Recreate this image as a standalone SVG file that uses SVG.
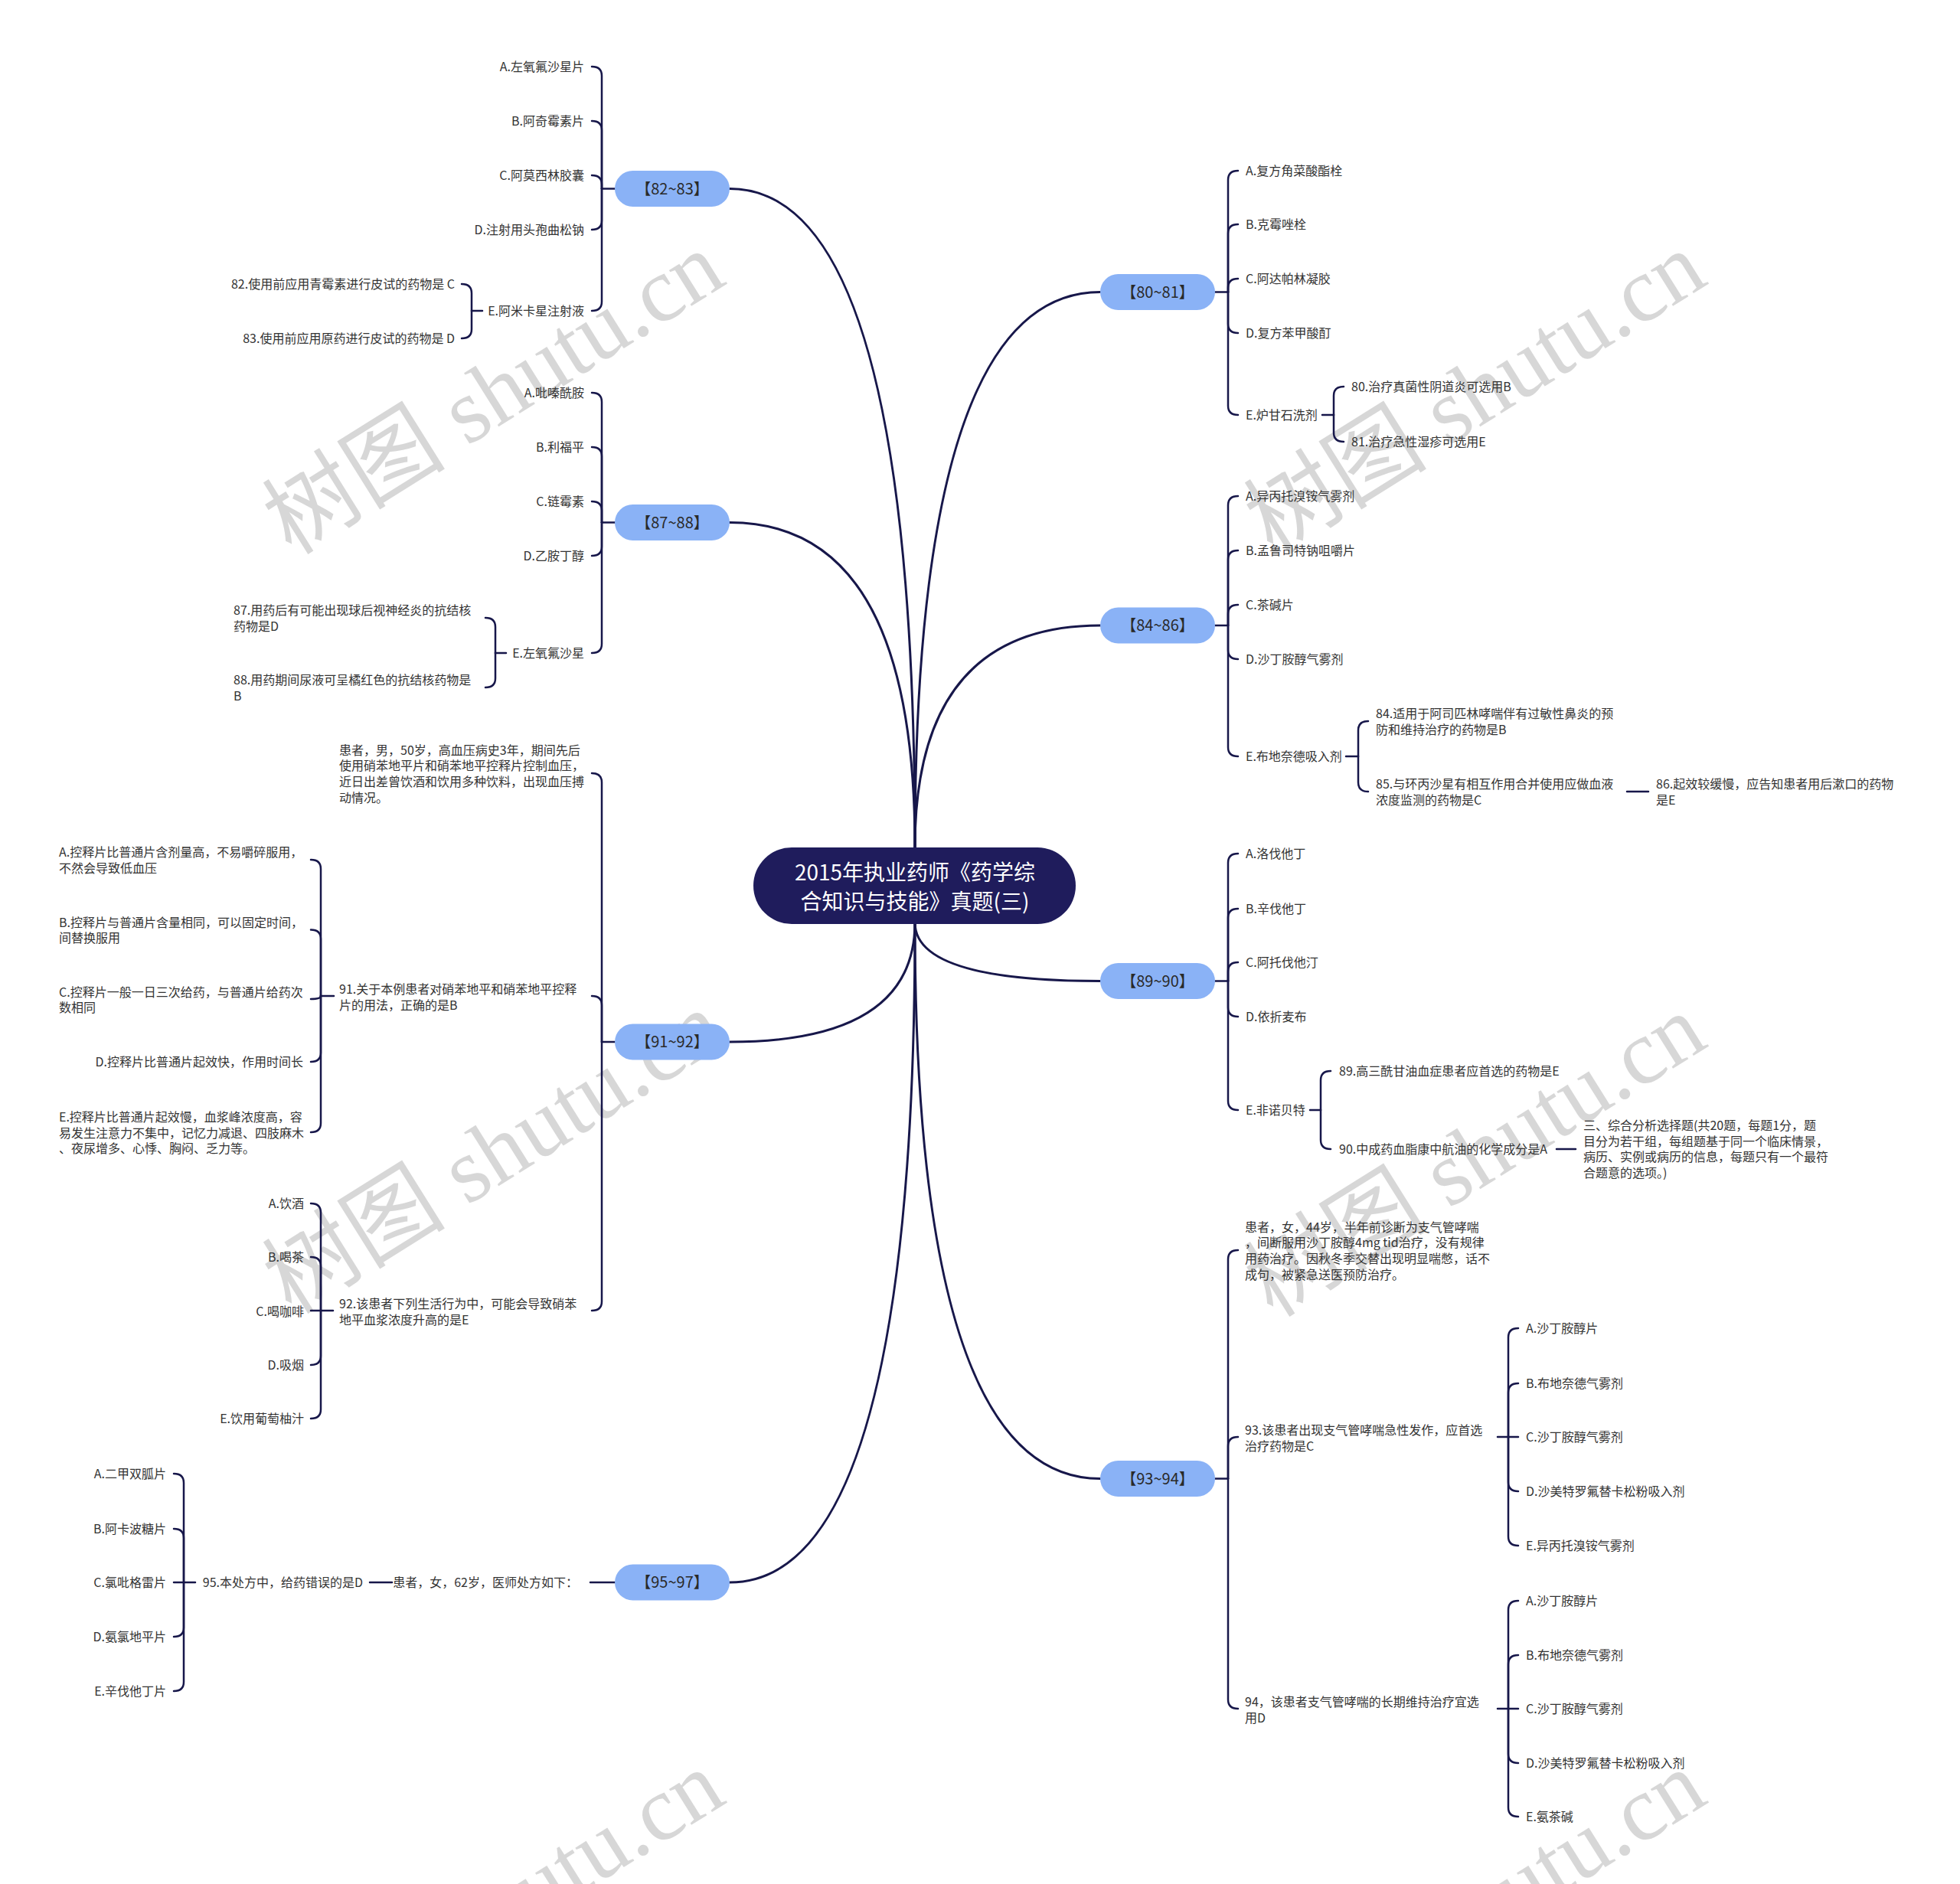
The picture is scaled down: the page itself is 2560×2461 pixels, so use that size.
<svg xmlns="http://www.w3.org/2000/svg" width="2560" height="2461" viewBox="0 0 2560 2461">
<style>
.t{font-family:"Noto Sans CJK SC","Liberation Sans",sans-serif;font-size:16px;fill:#333}
.e{text-anchor:end}
.bt{font-family:"Noto Sans CJK SC","Liberation Sans",sans-serif;font-size:20px;fill:#2a2a2a;text-anchor:middle}
.pill{fill:#8ab2f6}
.c{fill:none;stroke:#17174a;stroke-width:2.5;stroke-linecap:round}
.m{stroke-width:3}
.rt{font-family:"Noto Sans CJK SC","Liberation Sans",sans-serif;font-size:28px;fill:#ffffff;text-anchor:middle}
.wm{font-family:"Liberation Serif","Noto Sans CJK SC",serif;font-size:120px;fill:#c9c9c9;fill-opacity:0.75;text-anchor:middle}
</style>
<rect width="2560" height="2461" fill="#ffffff"/>
<g id="watermark">
<text class="wm" transform="translate(645,514) rotate(-32)" y="40">树图 shutu.cn</text>
<text class="wm" transform="translate(1927,514) rotate(-32)" y="40">树图 shutu.cn</text>
<text class="wm" transform="translate(645,1506) rotate(-32)" y="40">树图 shutu.cn</text>
<text class="wm" transform="translate(1927,1510) rotate(-32)" y="40">树图 shutu.cn</text>
<text class="wm" transform="translate(645,2498) rotate(-32)" y="40">树图 shutu.cn</text>
<text class="wm" transform="translate(1927,2498) rotate(-32)" y="40">树图 shutu.cn</text>
</g>
<g id="connectors">
<path class="c m" d="M1195,1107 Q1195,246.5 953,246.5"/>
<path class="c m" d="M1195,1107 Q1195,682.5 953,682.5"/>
<path class="c m" d="M1195,1205 Q1195,1361 953,1361"/>
<path class="c m" d="M1195,1205 Q1195,2067 953,2067"/>
<path class="c m" d="M1195,1107 Q1195,381.5 1437,381.5"/>
<path class="c m" d="M1195,1107 Q1195,817 1437,817"/>
<path class="c m" d="M1195,1205 Q1195,1281.5 1437,1281.5"/>
<path class="c m" d="M1195,1205 Q1195,1931.5 1437,1931.5"/>
<!-- 82~83 -->
<path class="c" d="M803,246.5 H786"/>
<path class="c" d="M786,246.5 V99 Q786,87 773,87"/>
<path class="c" d="M786,246.5 V170 Q786,158 773,158"/>
<path class="c" d="M786,246.5 V241 Q786,229 773,229"/>
<path class="c" d="M786,246.5 V288 Q786,300 773,300"/>
<path class="c" d="M786,246.5 V394 Q786,406 773,406"/>
<path class="c" d="M630,406 H616"/>
<path class="c" d="M616,406 V383 Q616,371 603,371"/>
<path class="c" d="M616,406 V430 Q616,442 603,442"/>
<!-- 87~88 -->
<path class="c" d="M803,682.5 H786"/>
<path class="c" d="M786,682.5 V525 Q786,513 773,513"/>
<path class="c" d="M786,682.5 V596 Q786,584 773,584"/>
<path class="c" d="M786,682.5 V667 Q786,655 773,655"/>
<path class="c" d="M786,682.5 V714 Q786,726 773,726"/>
<path class="c" d="M786,682.5 V841 Q786,853 773,853"/>
<path class="c" d="M661,853 H647"/>
<path class="c" d="M647,853 V819 Q647,807 634,807"/>
<path class="c" d="M647,853 V886 Q647,898 634,898"/>
<!-- 91~92 -->
<path class="c" d="M803,1361 H786"/>
<path class="c" d="M786,1361 V1022 Q786,1010 773,1010"/>
<path class="c" d="M786,1361 V1313 Q786,1301 773,1301"/>
<path class="c" d="M786,1361 V1700 Q786,1712 773,1712"/>
<path class="c" d="M436,1301 H419"/>
<path class="c" d="M419,1301 V1135 Q419,1123 406,1123"/>
<path class="c" d="M419,1301 V1226.6 Q419,1214.6 406,1214.6"/>
<path class="c" d="M419,1301 Q419,1305 406,1305"/>
<path class="c" d="M419,1301 V1375 Q419,1387 406,1387"/>
<path class="c" d="M419,1301 V1467 Q419,1479 406,1479"/>
<path class="c" d="M435,1712 H419"/>
<path class="c" d="M419,1712 V1584 Q419,1572 406,1572"/>
<path class="c" d="M419,1712 V1654 Q419,1642 406,1642"/>
<path class="c" d="M419,1712 H406"/>
<path class="c" d="M419,1712 V1771 Q419,1783 406,1783"/>
<path class="c" d="M419,1712 V1841 Q419,1853 406,1853"/>
<!-- 95~97 -->
<path class="c" d="M803,2067 H771"/>
<path class="c" d="M512,2067 H483"/>
<path class="c" d="M255,2067 H240"/>
<path class="c" d="M240,2067 V1937 Q240,1925 227,1925"/>
<path class="c" d="M240,2067 V2009 Q240,1997 227,1997"/>
<path class="c" d="M240,2067 H227"/>
<path class="c" d="M240,2067 V2126 Q240,2138 227,2138"/>
<path class="c" d="M240,2067 V2197 Q240,2209 227,2209"/>
<!-- 80~81 -->
<path class="c" d="M1587,381.5 H1604"/>
<path class="c" d="M1604,381.5 V235 Q1604,223 1617,223"/>
<path class="c" d="M1604,381.5 V305 Q1604,293 1617,293"/>
<path class="c" d="M1604,381.5 V376 Q1604,364 1617,364"/>
<path class="c" d="M1604,381.5 V423 Q1604,435 1617,435"/>
<path class="c" d="M1604,381.5 V530 Q1604,542 1617,542"/>
<path class="c" d="M1727,542 H1742"/>
<path class="c" d="M1742,542 V517 Q1742,505 1755,505"/>
<path class="c" d="M1742,542 V565 Q1742,577 1755,577"/>
<!-- 84~86 -->
<path class="c" d="M1587,817 H1604"/>
<path class="c" d="M1604,817 V660 Q1604,648 1617,648"/>
<path class="c" d="M1604,817 V731 Q1604,719 1617,719"/>
<path class="c" d="M1604,817 V802 Q1604,790 1617,790"/>
<path class="c" d="M1604,817 V849 Q1604,861 1617,861"/>
<path class="c" d="M1604,817 V976 Q1604,988 1617,988"/>
<path class="c" d="M1758,988 H1774"/>
<path class="c" d="M1774,988 V954 Q1774,942 1787,942"/>
<path class="c" d="M1774,988 V1022 Q1774,1034 1787,1034"/>
<path class="c" d="M2125,1034 H2153"/>
<!-- 89~90 -->
<path class="c" d="M1587,1281.5 H1604"/>
<path class="c" d="M1604,1281.5 V1127 Q1604,1115 1617,1115"/>
<path class="c" d="M1604,1281.5 V1199 Q1604,1187 1617,1187"/>
<path class="c" d="M1604,1281.5 V1269 Q1604,1257 1617,1257"/>
<path class="c" d="M1604,1281.5 V1316 Q1604,1328 1617,1328"/>
<path class="c" d="M1604,1281.5 V1438 Q1604,1450 1617,1450"/>
<path class="c" d="M1711,1450 H1725"/>
<path class="c" d="M1725,1450 V1411 Q1725,1399 1738,1399"/>
<path class="c" d="M1725,1450 V1489 Q1725,1501 1738,1501"/>
<path class="c" d="M2033,1501 H2058"/>
<!-- 93~94 -->
<path class="c" d="M1587,1931.5 H1604"/>
<path class="c" d="M1604,1931.5 V1645 Q1604,1633 1617,1633"/>
<path class="c" d="M1604,1931.5 V1889 Q1604,1877 1617,1877"/>
<path class="c" d="M1604,1931.5 V2220 Q1604,2232 1617,2232"/>
<path class="c" d="M1956,1877 H1970"/>
<path class="c" d="M1970,1877 V1747 Q1970,1735 1983,1735"/>
<path class="c" d="M1970,1877 V1819 Q1970,1807 1983,1807"/>
<path class="c" d="M1970,1877 H1983"/>
<path class="c" d="M1970,1877 V1936 Q1970,1948 1983,1948"/>
<path class="c" d="M1970,1877 V2007 Q1970,2019 1983,2019"/>
<path class="c" d="M1956,2232 H1970"/>
<path class="c" d="M1970,2232 V2103 Q1970,2091 1983,2091"/>
<path class="c" d="M1970,2232 V2174 Q1970,2162 1983,2162"/>
<path class="c" d="M1970,2232 H1983"/>
<path class="c" d="M1970,2232 V2291 Q1970,2303 1983,2303"/>
<path class="c" d="M1970,2232 V2361 Q1970,2373 1983,2373"/>
</g>
<g id="root">
<rect x="984" y="1107" width="421" height="100" rx="50" fill="#1f1c5c"/>
<text class="rt" x="1195" y="1150">2015年执业药师《药学综</text>
<text class="rt" x="1195" y="1188">合知识与技能》真题(三)</text>
</g>
<!-- left branches -->
<g id="b8283"><rect class="pill" x="803" y="223" width="150" height="47" rx="23.5"/><text class="bt" x="878" y="253.5">【82~83】</text></g>
<g id="b8283-a"><text class="t e" x="763" y="93">A.左氧氟沙星片</text></g>
<g id="b8283-b"><text class="t e" x="763" y="164">B.阿奇霉素片</text></g>
<g id="b8283-c"><text class="t e" x="763" y="235">C.阿莫西林胶囊</text></g>
<g id="b8283-d"><text class="t e" x="763" y="306">D.注射用头孢曲松钠</text></g>
<g id="b8283-e"><text class="t e" x="763" y="412">E.阿米卡星注射液</text></g>
<g id="q82"><text class="t e" x="594" y="377">82.使用前应用青霉素进行皮试的药物是 C</text></g>
<g id="q83"><text class="t e" x="594" y="448">83.使用前应用原药进行皮试的药物是 D</text></g>

<g id="b8788"><rect class="pill" x="803" y="659" width="150" height="47" rx="23.5"/><text class="bt" x="878" y="689.5">【87~88】</text></g>
<g id="b8788-a"><text class="t e" x="763" y="519">A.吡嗪酰胺</text></g>
<g id="b8788-b"><text class="t e" x="763" y="590">B.利福平</text></g>
<g id="b8788-c"><text class="t e" x="763" y="661">C.链霉素</text></g>
<g id="b8788-d"><text class="t e" x="763" y="732">D.乙胺丁醇</text></g>
<g id="b8788-e"><text class="t e" x="763" y="859">E.左氧氟沙星</text></g>
<g id="q87"><text class="t" x="305" y="803">87.用药后有可能出现球后视神经炎的抗结核</text><text class="t" x="305" y="823.5">药物是D</text></g>
<g id="q88"><text class="t" x="305" y="894">88.用药期间尿液可呈橘红色的抗结核药物是</text><text class="t" x="305" y="914.5">B</text></g>

<g id="b9192"><rect class="pill" x="803" y="1337.5" width="150" height="47" rx="23.5"/><text class="bt" x="878" y="1368">【91~92】</text></g>
<g id="case91"><text class="t" x="443" y="985.5">患者，男，50岁，高血压病史3年，期间先后</text><text class="t" x="443" y="1006.2">使用硝苯地平片和硝苯地平控释片控制血压，</text><text class="t" x="443" y="1026.9">近日出差曾饮酒和饮用多种饮料，出现血压搏</text><text class="t" x="443" y="1047.6">动情况。</text></g>
<g id="q91"><text class="t" x="443" y="1298">91.关于本例患者对硝苯地平和硝苯地平控释</text><text class="t" x="443" y="1318.5">片的用法，正确的是B</text></g>
<g id="q91-a"><text class="t" x="77" y="1119">A.控释片比普通片含剂量高，不易嚼碎服用，</text><text class="t" x="77" y="1139.5">不然会导致低血压</text></g>
<g id="q91-b"><text class="t" x="77" y="1210.5">B.控释片与普通片含量相同，可以固定时间，</text><text class="t" x="77" y="1231">间替换服用</text></g>
<g id="q91-c"><text class="t" x="77" y="1301.5">C.控释片一般一日三次给药，与普通片给药次</text><text class="t" x="77" y="1322">数相同</text></g>
<g id="q91-d"><text class="t e" x="396" y="1393">D.控释片比普通片起效快，作用时间长</text></g>
<g id="q91-e"><text class="t" x="77" y="1465">E.控释片比普通片起效慢，血浆峰浓度高，容</text><text class="t" x="77" y="1485.7">易发生注意力不集中，记忆力减退、四肢麻木</text><text class="t" x="77" y="1506.4">、夜尿增多、心悸、胸闷、乏力等。</text></g>
<g id="q92"><text class="t" x="443" y="1709">92.该患者下列生活行为中，可能会导致硝苯</text><text class="t" x="443" y="1729.5">地平血浆浓度升高的是E</text></g>
<g id="q92-a"><text class="t e" x="397" y="1578">A.饮酒</text></g>
<g id="q92-b"><text class="t e" x="397" y="1648">B.喝茶</text></g>
<g id="q92-c"><text class="t e" x="397" y="1719">C.喝咖啡</text></g>
<g id="q92-d"><text class="t e" x="397" y="1789">D.吸烟</text></g>
<g id="q92-e"><text class="t e" x="397" y="1859">E.饮用葡萄柚汁</text></g>

<g id="b9597"><rect class="pill" x="803" y="2043.5" width="150" height="47" rx="23.5"/><text class="bt" x="878" y="2074">【95~97】</text></g>
<g id="case95"><text class="t e" x="755" y="2073">患者，女，62岁，医师处方如下：</text></g>
<g id="q95"><text class="t e" x="474" y="2073">95.本处方中，给药错误的是D</text></g>
<g id="q95-a"><text class="t e" x="217" y="1931">A.二甲双胍片</text></g>
<g id="q95-b"><text class="t e" x="217" y="2003">B.阿卡波糖片</text></g>
<g id="q95-c"><text class="t e" x="217" y="2073">C.氯吡格雷片</text></g>
<g id="q95-d"><text class="t e" x="217" y="2144">D.氨氯地平片</text></g>
<g id="q95-e"><text class="t e" x="217" y="2215">E.辛伐他丁片</text></g>
<!-- right branches -->
<g id="b8081"><rect class="pill" x="1437" y="358" width="150" height="47" rx="23.5"/><text class="bt" x="1512" y="388.5">【80~81】</text></g>
<g id="b8081-a"><text class="t" x="1627" y="229">A.复方角菜酸酯栓</text></g>
<g id="b8081-b"><text class="t" x="1627" y="299">B.克霉唑栓</text></g>
<g id="b8081-c"><text class="t" x="1627" y="370">C.阿达帕林凝胶</text></g>
<g id="b8081-d"><text class="t" x="1627" y="441">D.复方苯甲酸酊</text></g>
<g id="b8081-e"><text class="t" x="1627" y="548">E.炉甘石洗剂</text></g>
<g id="q80"><text class="t" x="1765" y="511">80.治疗真菌性阴道炎可选用B</text></g>
<g id="q81"><text class="t" x="1765" y="583">81.治疗急性湿疹可选用E</text></g>

<g id="b8486"><rect class="pill" x="1437" y="793.5" width="150" height="47" rx="23.5"/><text class="bt" x="1512" y="824">【84~86】</text></g>
<g id="b8486-a"><text class="t" x="1627" y="654">A.异丙托溴铵气雾剂</text></g>
<g id="b8486-b"><text class="t" x="1627" y="725">B.孟鲁司特钠咀嚼片</text></g>
<g id="b8486-c"><text class="t" x="1627" y="796">C.茶碱片</text></g>
<g id="b8486-d"><text class="t" x="1627" y="867">D.沙丁胺醇气雾剂</text></g>
<g id="b8486-e"><text class="t" x="1627" y="994">E.布地奈德吸入剂</text></g>
<g id="q84"><text class="t" x="1797" y="938">84.适用于阿司匹林哮喘伴有过敏性鼻炎的预</text><text class="t" x="1797" y="958.5">防和维持治疗的药物是B</text></g>
<g id="q85"><text class="t" x="1797" y="1030">85.与环丙沙星有相互作用合并使用应做血液</text><text class="t" x="1797" y="1050.5">浓度监测的药物是C</text></g>
<g id="q86"><text class="t" x="2163" y="1030">86.起效较缓慢，应告知患者用后漱口的药物</text><text class="t" x="2163" y="1050.5">是E</text></g>

<g id="b8990"><rect class="pill" x="1437" y="1258" width="150" height="47" rx="23.5"/><text class="bt" x="1512" y="1288.5">【89~90】</text></g>
<g id="b8990-a"><text class="t" x="1627" y="1121">A.洛伐他丁</text></g>
<g id="b8990-b"><text class="t" x="1627" y="1193">B.辛伐他丁</text></g>
<g id="b8990-c"><text class="t" x="1627" y="1263">C.阿托伐他汀</text></g>
<g id="b8990-d"><text class="t" x="1627" y="1334">D.依折麦布</text></g>
<g id="b8990-e"><text class="t" x="1627" y="1456">E.非诺贝特</text></g>
<g id="q89"><text class="t" x="1749" y="1405">89.高三酰甘油血症患者应首选的药物是E</text></g>
<g id="q90"><text class="t" x="1749" y="1507">90.中成药血脂康中航油的化学成分是A</text></g>
<g id="sec3"><text class="t" x="2068" y="1476">三、综合分析选择题(共20题，每题1分，题</text><text class="t" x="2068" y="1496.7">目分为若干组，每组题基于同一个临床情景，</text><text class="t" x="2068" y="1517.4">病历、实例或病历的信息，每题只有一个最符</text><text class="t" x="2068" y="1538.1">合题意的选项。)</text></g>

<g id="b9394"><rect class="pill" x="1437" y="1908" width="150" height="47" rx="23.5"/><text class="bt" x="1512" y="1938.5">【93~94】</text></g>
<g id="case93"><text class="t" x="1626" y="1608.5">患者，女，44岁，半年前诊断为支气管哮喘</text><text class="t" x="1626" y="1629.2">，间断服用沙丁胺醇4mg tid治疗，没有规律</text><text class="t" x="1626" y="1649.9">用药治疗。因秋冬季交替出现明显喘憋，话不</text><text class="t" x="1626" y="1670.6">成句，被紧急送医预防治疗。</text></g>
<g id="q93"><text class="t" x="1626" y="1874">93.该患者出现支气管哮喘急性发作，应首选</text><text class="t" x="1626" y="1894.5">治疗药物是C</text></g>
<g id="q93-a"><text class="t" x="1993" y="1741">A.沙丁胺醇片</text></g>
<g id="q93-b"><text class="t" x="1993" y="1813">B.布地奈德气雾剂</text></g>
<g id="q93-c"><text class="t" x="1993" y="1883">C.沙丁胺醇气雾剂</text></g>
<g id="q93-d"><text class="t" x="1993" y="1954">D.沙美特罗氟替卡松粉吸入剂</text></g>
<g id="q93-e"><text class="t" x="1993" y="2025">E.异丙托溴铵气雾剂</text></g>
<g id="q94"><text class="t" x="1626" y="2229">94，该患者支气管哮喘的长期维持治疗宜选</text><text class="t" x="1626" y="2249.5">用D</text></g>
<g id="q94-a"><text class="t" x="1993" y="2097">A.沙丁胺醇片</text></g>
<g id="q94-b"><text class="t" x="1993" y="2168">B.布地奈德气雾剂</text></g>
<g id="q94-c"><text class="t" x="1993" y="2238">C.沙丁胺醇气雾剂</text></g>
<g id="q94-d"><text class="t" x="1993" y="2309">D.沙美特罗氟替卡松粉吸入剂</text></g>
<g id="q94-e"><text class="t" x="1993" y="2379">E.氨茶碱</text></g>
</svg>
